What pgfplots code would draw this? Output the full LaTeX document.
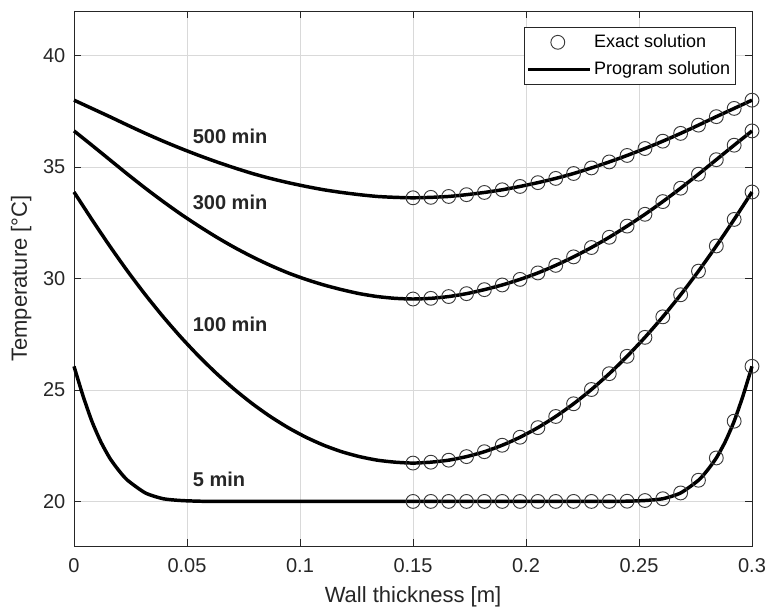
\documentclass[border=0pt]{standalone}
\usepackage{fontspec}
\setmainfont{Liberation Sans}
\usepackage{pgfplots}
\pgfplotsset{compat=1.18}
\usetikzlibrary{calc}
\definecolor{axgray}{HTML}{262626}
\definecolor{mkgray}{HTML}{3A3A3A}

% exact solution, read off the markers (right half of the wall)
\pgfplotstableread{
x        t5     t100   t300   t500
0.150000 20.00  21.72  29.08  33.62
0.157895 20.00  21.76  29.11  33.64
0.165789 20.00  21.85  29.19  33.68
0.173684 20.00  22.01  29.32  33.76
0.181579 20.00  22.23  29.50  33.86
0.189474 20.00  22.52  29.71  33.98
0.197368 20.00  22.88  29.96  34.13
0.205263 20.00  23.31  30.25  34.30
0.213158 20.00  23.81  30.59  34.49
0.221053 20.00  24.38  30.97  34.71
0.228947 20.00  25.02  31.39  34.96
0.236842 20.00  25.73  31.85  35.23
0.244737 20.01  26.51  32.35  35.52
0.252632 20.04  27.36  32.88  35.83
0.260526 20.12  28.28  33.45  36.16
0.268421 20.38  29.27  34.05  36.51
0.276316 20.95  30.33  34.68  36.88
0.284211 21.95  31.46  35.33  37.26
0.292105 23.60  32.65  35.98  37.63
0.300000 26.06  33.88  36.62  38.00
}\exact

\begin{document}
\begin{tikzpicture}
\begin{axis}[
  scale only axis,
  width=508.5pt, height=401.25pt,
  xmin=0, xmax=0.3, ymin=18, ymax=42,
  xtick={0,0.05,0.1,0.15,0.2,0.25,0.3},
  xticklabels={0,0.05,0.1,0.15,0.2,0.25,0.3},
  ytick={20,25,30,35,40},
  tick align=inside, major tick length=5pt,
  axis line style={axgray, line width=0.6pt},
  every tick/.style={axgray, line width=0.6pt},
  grid=major, grid style={black!15, line width=0.5pt},
  ticklabel style={font=\fontsize{15}{18}\selectfont, text=axgray},
  /pgf/number format/assume math mode=true,
  yticklabel style={xshift=-3pt},
  xticklabel style={yshift=-6pt},
  xlabel={Wall thickness [m]},
  ylabel={Temperature [°C]},
  label style={font=\fontsize{16.5}{19}\selectfont, text=axgray},
  xlabel style={at={(axis description cs:0.5,-0.095)}, anchor=center},
  ylabel style={at={(axis description cs:-0.078,0.5)}, anchor=center},
  clip=false,
  legend image code/.code={
    \draw[mark repeat=2,mark phase=2,#1]
      plot coordinates {(0pt,0pt)(22pt,0pt)(46pt,0pt)};},
  legend cell align=left,
  legend style={at={(axis description cs:0.9764,0.970)}, anchor=north east,
    draw=axgray, line width=0.6pt, fill=white,
    font=\fontsize{13.5}{16}\selectfont,
    inner xsep=2pt, inner ysep=3.5pt, row sep=5pt},
  mk/.style={only marks, mark=o, mark size=5.2pt,
    mark options={draw=mkgray, line width=0.7pt}},
  ln/.style={black, line width=2.6pt, smooth, tension=0.4, no marks},
]
% legend entries first
\addplot[mk] table[x=x,y=t500] {\exact};
\addlegendentry{Exact solution}
\addplot[ln] coordinates {
 (0,38.00) (0.007895,37.63) (0.015789,37.26) (0.023684,36.88) (0.031579,36.51)
 (0.039474,36.16) (0.047368,35.83) (0.055263,35.52) (0.063158,35.23) (0.071053,34.96)
 (0.078947,34.71) (0.086842,34.49) (0.094737,34.30) (0.102632,34.13) (0.110526,33.98)
 (0.118421,33.86) (0.126316,33.76) (0.134211,33.68) (0.142105,33.64) (0.150000,33.62)
 (0.157895,33.64) (0.165789,33.68) (0.173684,33.76) (0.181579,33.86) (0.189474,33.98)
 (0.197368,34.13) (0.205263,34.30) (0.213158,34.49) (0.221053,34.71) (0.228947,34.96)
 (0.236842,35.23) (0.244737,35.52) (0.252632,35.83) (0.260526,36.16) (0.268421,36.51)
 (0.276316,36.88) (0.284211,37.26) (0.292105,37.63) (0.300000,38.00)};
\addlegendentry{Program solution}

\addplot[ln, forget plot] coordinates {
 (0,36.62) (0.007895,35.98) (0.015789,35.33) (0.023684,34.68) (0.031579,34.05)
 (0.039474,33.45) (0.047368,32.88) (0.055263,32.35) (0.063158,31.85) (0.071053,31.39)
 (0.078947,30.97) (0.086842,30.59) (0.094737,30.25) (0.102632,29.96) (0.110526,29.71)
 (0.118421,29.50) (0.126316,29.32) (0.134211,29.19) (0.142105,29.11) (0.150000,29.08)
 (0.157895,29.11) (0.165789,29.19) (0.173684,29.32) (0.181579,29.50) (0.189474,29.71)
 (0.197368,29.96) (0.205263,30.25) (0.213158,30.59) (0.221053,30.97) (0.228947,31.39)
 (0.236842,31.85) (0.244737,32.35) (0.252632,32.88) (0.260526,33.45) (0.268421,34.05)
 (0.276316,34.68) (0.284211,35.33) (0.292105,35.98) (0.300000,36.62)};
\addplot[ln, forget plot] coordinates {
 (0,33.88) (0.007895,32.65) (0.015789,31.46) (0.023684,30.33) (0.031579,29.27)
 (0.039474,28.28) (0.047368,27.36) (0.055263,26.51) (0.063158,25.73) (0.071053,25.02)
 (0.078947,24.38) (0.086842,23.81) (0.094737,23.31) (0.102632,22.88) (0.110526,22.52)
 (0.118421,22.23) (0.126316,22.01) (0.134211,21.85) (0.142105,21.76) (0.150000,21.72)
 (0.157895,21.76) (0.165789,21.85) (0.173684,22.01) (0.181579,22.23) (0.189474,22.52)
 (0.197368,22.88) (0.205263,23.31) (0.213158,23.81) (0.221053,24.38) (0.228947,25.02)
 (0.236842,25.73) (0.244737,26.51) (0.252632,27.36) (0.260526,28.28) (0.268421,29.27)
 (0.276316,30.33) (0.284211,31.46) (0.292105,32.65) (0.300000,33.88)};
\addplot[ln, forget plot] coordinates {
 (0,26.06) (0.003947,24.75) (0.007895,23.60) (0.011842,22.68) (0.015789,21.95)
 (0.019737,21.40) (0.023684,20.95) (0.031579,20.38) (0.039474,20.12) (0.047368,20.04)
 (0.055263,20.01) (0.063158,20.00) (0.100000,20.00) (0.150000,20.00) (0.200000,20.00)
 (0.236842,20.00) (0.244737,20.01) (0.252632,20.04) (0.260526,20.12) (0.268421,20.38)
 (0.276316,20.95) (0.280263,21.40) (0.284211,21.95) (0.288158,22.68) (0.292105,23.60)
 (0.296053,24.75) (0.300000,26.06)};

\addplot[mk, forget plot] table[x=x,y=t300] {\exact};
\addplot[mk, forget plot] table[x=x,y=t100] {\exact};
\addplot[mk, forget plot] table[x=x,y=t5] {\exact};

\begin{scope}[font=\fontsize{15}{18}\selectfont\bfseries, text=axgray]
\node[anchor=west] at (axis cs:0.0505,36.39) {500 min};
\node[anchor=west] at (axis cs:0.0505,33.41) {300 min};
\node[anchor=west] at (axis cs:0.0505,27.95) {100 min};
\node[anchor=west] at (axis cs:0.0505,20.98) {5 min};
\end{scope}
\end{axis}
\pgfresetboundingbox
\useasboundingbox ($(current axis.south west)+(-55.5pt,-48pt)$)
  rectangle ($(current axis.north east)+(12.75pt,8.25pt)$);
\end{tikzpicture}
\end{document}
